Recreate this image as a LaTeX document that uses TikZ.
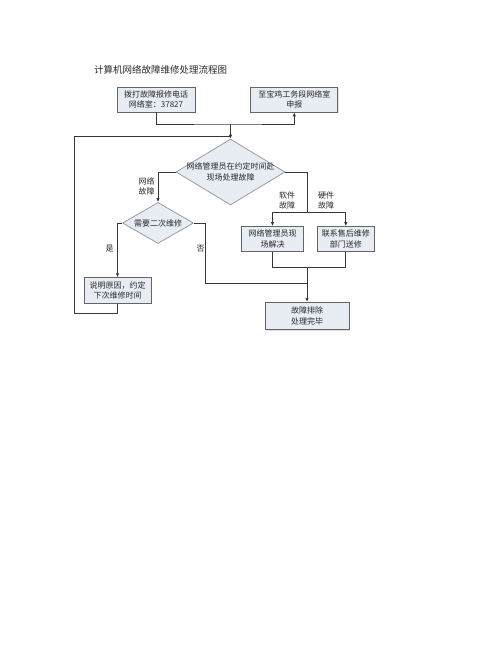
\documentclass[tikz,border=0pt]{standalone}
\usepackage{xcolor}
\usepackage{fontspec}
\setmainfont{Noto Sans CJK SC}
\usetikzlibrary{arrows.meta,positioning,shapes.geometric,shadows}
\definecolor{boxfill}{RGB}{232,236,243}
\definecolor{boxline}{RGB}{100,100,100}
\definecolor{diamline}{RGB}{150,155,165}
\definecolor{linegray}{RGB}{55,55,55}
\definecolor{inkgray}{RGB}{40,40,40}

\begin{document}
\begin{tikzpicture}[x=1pt, y=-1pt,
  >={Latex[length=4pt,width=3.5pt]},
  node distance=13pt and 55pt,
  plain/.style={
    fill=boxfill,
    line width=0.8pt,
    align=center,
    text=inkgray,
    font=\fontsize{8}{10.5}\selectfont,
    inner sep=1pt,
    minimum height=25pt
  },
  box/.style={plain, draw=boxline,
    drop shadow={shadow xshift=0.8pt, shadow yshift=-0.8pt, fill=black!25}},
  decide/.style={plain, draw=diamline, diamond, inner xsep=-20pt, inner ysep=0pt},
  lbl/.style={align=center, inner sep=0pt, text=inkgray,
    font=\fontsize{8}{10}\selectfont},
  ln/.style={draw=linegray, line width=0.8pt},
  arr/.style={ln, ->}
]
\useasboundingbox (0,0) rectangle (500,647);

\node[lbl, font=\fontsize{9.5}{11}\selectfont] (title) at (160.5,70)
{计算机网络故障维修处理流程图};

\node[box, minimum width=78pt] (call) at (156,99.5)
{拨打故障报修电话\\网络室：37827};
\node[box, right=of call, minimum width=87pt] (report)
{至宝鸡工务段网络室\\申报};

\node[decide, minimum width=109pt, minimum height=43pt] (meet) at (230.5,172)
{网络管理员在约定时间赴\\现场处理故障};
\node[decide, minimum width=71pt, minimum height=41pt] (again) at (158,223)
{需要二次维修};

\node[box, minimum width=62pt] (onsite) at (272.5,239)
{网络管理员现\\场解决};
\node[box, right=13pt of onsite, minimum width=57pt] (vendor)
{联系售后维修\\部门送修};

\node[box, minimum width=67pt, minimum height=25.6pt] (explain) at (117.5,290.5)
{说明原因，约定\\下次维修时间};
\node[box, minimum width=84pt, minimum height=27.5pt] (done) at (307,316)
{故障排除\\处理完毕};

\node[lbl] (netlbl) at (146.7,186) {网络\\故障};
\node[lbl] (softlbl) at (287,200.5) {软件\\故障};
\node[lbl] (hardlbl) at (326,200.5) {硬件\\故障};
\node[lbl] (yeslbl) at (109.7,248.3) {是};
\node[lbl] (nolbl) at (200.7,248.3) {否};

\coordinate (top) at (230.5,124);
\coordinate (back) at (230.5,136);
\coordinate (loop) at (74,313.3);
\coordinate (split) at (307,212.7);
\coordinate (merge) at (307,267.7);
\coordinate (nodown) at (205.3,283.3);
\coordinate (nojoin) at (307,283.3);

\draw[arr] (call.south) |- (top) -| (report.south);
\draw[arr] (top) -- (meet.north);
\draw[ln] (explain.south) |- (loop) |- (back);
\draw[arr] (meet.west) -| (again.north);
\draw[ln] (meet.east) -| (split);
\draw[arr] (split) -| (onsite.north);
\draw[arr] (split) -| (vendor.north);
\draw[ln] (onsite.south) |- (merge);
\draw[ln] (vendor.south) |- (merge);
\draw[arr] (merge) -- (done.north);
\draw[arr] (again.west) -| (explain.north);
\draw[ln] (again.east) -| (nodown) -- (nojoin);
\end{tikzpicture}
\end{document}
